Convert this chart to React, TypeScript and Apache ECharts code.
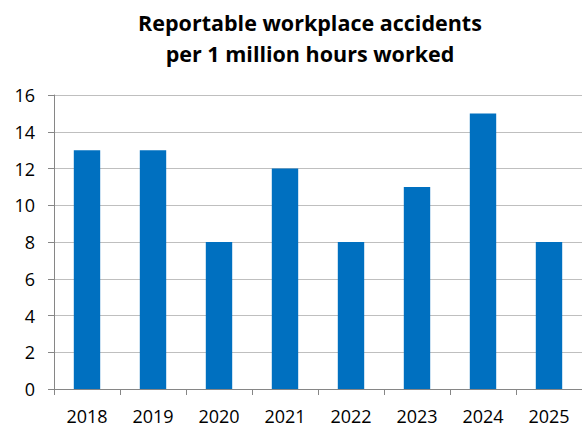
import React, { useEffect, useRef } from "react";
import * as echarts from "echarts";

const categories = ["2018", "2019", "2020", "2021", "2022", "2023", "2024", "2025"];
const values = [13, 13, 8, 12, 8, 11, 15, 8];
const titleLines = ["Reportable workplace accidents", "per 1 million hours worked"];

const FONT = "'Open Sans', 'Noto Sans', sans-serif";

export default function App() {
  const ref = useRef<HTMLDivElement>(null);
  useEffect(() => {
    if (!ref.current) return;
    const chart = echarts.init(ref.current, null, { renderer: "svg" });
    chart.setOption({
      animation: false,
      backgroundColor: "#ffffff",
      title: {
        text: titleLines.join("\n"),
        left: 305,
        textAlign: "center",
        top: 2,
        textStyle: {
          fontFamily: FONT,
          fontWeight: "bold",
          fontSize: 21.5,
          lineHeight: 31,
          color: "#000000",
        },
      },
      grid: { left: 54, top: 95, width: 536, height: 294, containLabel: false },
      xAxis: {
        type: "category",
        data: categories,
        axisLine: { show: true, lineStyle: { color: "#868686", width: 1 } },
        axisTick: { show: true, length: 6, lineStyle: { color: "#868686" } },
        axisLabel: { fontFamily: FONT, fontSize: 18, color: "#000000", margin: 18 },
        splitLine: { show: false },
      },
      yAxis: {
        type: "value",
        min: 0,
        max: 16,
        interval: 2,
        axisLine: { show: true, lineStyle: { color: "#868686", width: 1 } },
        axisTick: { show: true, length: 6, lineStyle: { color: "#868686" } },
        axisLabel: { fontFamily: FONT, fontSize: 18, color: "#000000", margin: 19 },
        splitLine: { show: true, lineStyle: { color: "#bfbfbf", width: 1 } },
      },
      series: [
        {
          type: "bar",
          data: values,
          barWidth: "40%",
          itemStyle: { color: "#0070C0" },
        },
      ],
    });
    return () => chart.dispose();
  }, []);
  return <div ref={ref} style={{ width: 582, height: 427, position: "absolute", left: 0, top: 0 }} />;
}
